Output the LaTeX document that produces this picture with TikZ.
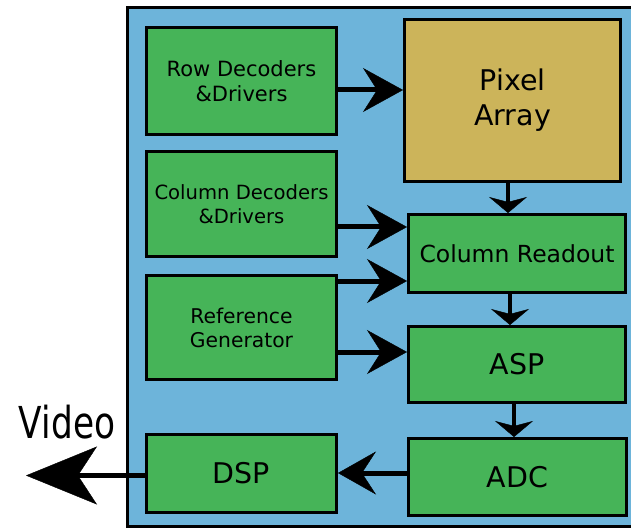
\documentclass[tikz,border=0pt]{standalone}
\usepackage{fontspec}
\setmainfont{DejaVu Sans}
\usetikzlibrary{arrows.meta}
\definecolor{bg}{HTML}{6DB4DA}
\definecolor{grn}{HTML}{46B458}
\definecolor{gold}{HTML}{CCB45A}
\begin{document}
\begin{tikzpicture}[x=1pt,y=-1pt,
 blk/.style={draw=black, line width=3.3pt, fill=grn, inner sep=0pt, align=center, text=black},
 bfont/.style={font=\fontsize{28.5}{35}\selectfont},
 conn/.style={line width=5pt, -{Stealth[length=40pt,width=44pt,inset=14pt,line width=0.4pt]}},
 vconn/.style={line width=4.3pt, -{Stealth[length=16pt,width=38pt,inset=5pt,line width=0.4pt]}},
 bigconn/.style={line width=5pt, -{Stealth[length=71pt,width=58pt,inset=19pt,line width=0.4pt]}},
]
\useasboundingbox (0,0) rectangle (631,529);
\fill[white] (0,0) rectangle (631,529);
\draw[fill=bg, line width=3.5pt] (127.5,7.5) rectangle (645,526.5);

\node[blk, font=\fontsize{21}{24.5}\selectfont, minimum width=189.7pt, minimum height=106.7pt] (row) at (241.5,81) {Row Decoders\\\&Drivers};
\node[blk, font=\fontsize{19.6}{24.5}\selectfont, minimum width=189.7pt, minimum height=104.7pt] (cdec) at (241.5,204) {Column Decoders\\\&Drivers};
\node[blk, font=\fontsize{20.3}{24}\selectfont, minimum width=189.7pt, minimum height=103.7pt] (ref) at (241.5,327.5) {Reference\\Generator};
\node[blk, bfont, minimum width=189.7pt, minimum height=77.7pt] (dsp) at (241.5,473.5) {DSP};
\node[blk, bfont, fill=gold, minimum width=215.7pt, minimum height=161.7pt] (pix) at (512.5,100.5) {Pixel\\Array};
\node[blk, font=\fontsize{23.5}{27}\selectfont, minimum width=216.7pt, minimum height=77.7pt] (cro) at (517,253.5) {Column Readout};
\node[blk, bfont, minimum width=216.7pt, minimum height=75.7pt] (asp) at (517,364.5) {ASP};
\node[blk, bfont, minimum width=217.7pt, minimum height=76.7pt] (adc) at (517.5,477) {ADC};
\node[font=\fontsize{44}{44}\selectfont, xscale=0.78, inner sep=0pt] (video) at (67,422) {Video};
\coordinate (vout) at (26,475.5);

\draw[conn] ([yshift=-9pt]row.east) -- ([yshift=-9pt]row.east -| pix.west);
\draw[conn] ([yshift=-23pt]cdec.east) -- ([yshift=-23pt]cdec.east -| cro.west);
\draw[conn] ([yshift=46.5pt]ref.east) -- ([yshift=46.5pt]ref.east -| cro.west);
\draw[conn] ([yshift=-24.5pt]ref.east) -- ([yshift=-24.5pt]ref.east -| asp.west);
\draw[vconn] ([xshift=-4.5pt]pix.south) -- ([xshift=-4.5pt]pix.south |- cro.north);
\draw[vconn] ([xshift=-7pt]cro.south) -- ([xshift=-7pt]cro.south |- asp.north);
\draw[vconn] ([xshift=-3pt]asp.south) -- ([xshift=-3pt]asp.south |- adc.north);
\draw[line width=5pt, -{Stealth[length=38pt,width=43pt,inset=14pt,line width=0.4pt]}] ([yshift=4pt]adc.west) -- ([yshift=4pt]adc.west -| dsp.east);
\draw[bigconn] ([yshift=-2pt]dsp.west) -- ([yshift=-2pt]dsp.west -| vout);
\end{tikzpicture}
\end{document}
